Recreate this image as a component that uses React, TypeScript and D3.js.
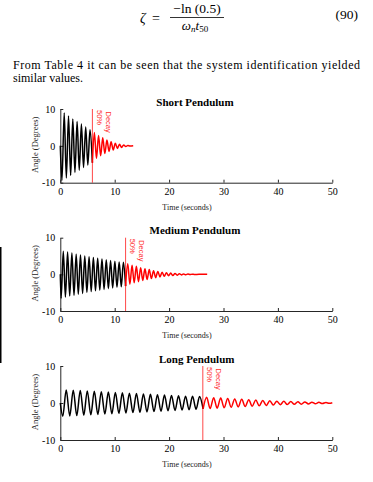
import React, { useRef, useEffect } from "react";
import * as d3 from "d3";

// Turning points of each trace: time (s) and angle (deg).
// Black = before the 50% decay mark, red = after.
const SHORT_BLACK_T = [0, 0.3, 0.72, 1.11, 1.51, 1.9, 2.3, 2.69, 3.09, 3.48, 3.88, 4.27, 4.67, 5.06, 5.46, 5.9];
const SHORT_BLACK_V = [0, -9.4, 8.9, -8.7, 8.1, -8.0, 7.3, -7.2, 6.6, -6.6, 5.9, -5.9, 5.1, -5.2, 4.4, -4.6];
const SHORT_RED_T = [5.9, 6.26, 6.65, 7.03, 7.42, 7.8, 8.19, 8.57, 8.96, 9.34, 9.73, 10.11, 10.5, 10.88, 11.27, 11.65, 12.04, 12.42, 12.81, 13.4];
const SHORT_RED_V = [-4.6, 3.6, -3.4, 2.8, -2.7, 2.2, -2.1, 1.6, -1.5, 1.1, -1.1, 0.7, -0.7, 0.45, -0.45, 0.25, -0.2, 0.1, -0.05, 0];

const MEDIUM_BLACK_T = [0, 0.15, 0.55, 0.94, 1.34, 1.73, 2.13, 2.52, 2.92, 3.31, 3.71, 4.1, 4.5, 4.89, 5.29, 5.68, 6.08, 6.47, 6.87, 7.26, 7.66, 8.05, 8.45, 8.84, 9.24, 9.63, 10.03, 10.42, 10.82, 11.21, 11.6, 12.0];
const MEDIUM_BLACK_V = [0, -6.5, 6.3, -6.2, 6.1, -5.9, 5.8, -5.7, 5.5, -5.4, 5.3, -5.2, 5.0, -4.9, 4.8, -4.7, 4.6, -4.5, 4.4, -4.3, 4.2, -4.1, 4.0, -3.9, 3.8, -3.7, 3.6, -3.5, 3.4, -3.4, 3.3, -3.2];
const MEDIUM_RED_T = [12.0, 12.4, 12.79, 13.19, 13.58, 13.98, 14.37, 14.77, 15.16, 15.56, 15.95, 16.35, 16.74, 17.14, 17.53, 17.93, 18.32, 18.72, 19.11, 19.51, 19.9, 20.3, 20.69, 21.09, 21.48, 21.88, 22.27, 22.67, 23.06, 23.46, 23.85, 24.25, 24.64, 25.5, 27.0];
const MEDIUM_RED_V = [-3.2, 2.9, -2.7, 2.5, -2.3, 2.2, -2.0, 1.8, -1.65, 1.5, -1.4, 1.3, -1.15, 1.0, -0.9, 0.8, -0.7, 0.6, -0.55, 0.45, -0.4, 0.35, -0.3, 0.25, -0.22, 0.18, -0.15, 0.12, -0.1, 0.08, -0.06, 0.04, -0.03, 0, 0];

const LONG_BLACK_T = [0, 0.45, 1.09, 1.74, 2.38, 3.03, 3.67, 4.32, 4.96, 5.61, 6.25, 6.9, 7.54, 8.19, 8.83, 9.48, 10.12, 10.77, 11.41, 12.06, 12.7, 13.35, 13.99, 14.64, 15.28, 15.93, 16.57, 17.22, 17.86, 18.51, 19.15, 19.8, 20.44, 21.09, 21.73, 22.38, 23.02, 23.67, 24.31, 24.96, 25.6, 26.25];
const LONG_BLACK_V = [0, -3.6, 3.5, -3.5, 3.45, -3.4, 3.35, -3.3, 3.25, -3.2, 3.15, -3.1, 3.05, -3.0, 2.95, -2.9, 2.85, -2.8, 2.75, -2.7, 2.65, -2.6, 2.55, -2.5, 2.45, -2.4, 2.35, -2.3, 2.25, -2.2, 2.15, -2.1, 2.05, -2.0, 1.95, -1.9, 1.85, -1.8, 1.8, -1.7, 1.75, -1.6];
const LONG_RED_T = [26.25, 26.9, 27.54, 28.19, 28.83, 29.48, 30.12, 30.77, 31.41, 32.06, 32.7, 33.35, 33.99, 34.64, 35.28, 35.93, 36.57, 37.22, 37.86, 38.51, 39.15, 39.8, 40.44, 41.09, 41.73, 42.38, 43.02, 43.67, 44.31, 44.96, 45.6, 46.25, 46.89, 47.54, 48.18, 48.83, 49.47, 50.0];
const LONG_RED_V = [-1.6, 1.55, -1.5, 1.45, -1.4, 1.35, -1.3, 1.2, -1.15, 1.1, -1.05, 1.0, -0.95, 0.9, -0.85, 0.8, -0.75, 0.7, -0.65, 0.6, -0.55, 0.5, -0.47, 0.45, -0.42, 0.4, -0.37, 0.35, -0.32, 0.3, -0.25, 0.22, -0.2, 0.17, -0.15, 0.13, -0.1, 0.05];

// 50% decay times (s)
const SPLIT_TIMES = [5.9, 12.0, 26.2];
const TITLES = ["Short Pendulum", "Medium Pendulum", "Long Pendulum"];

const X_TICKS = [0, 10, 20, 30, 40, 50];
const Y_TICKS = [-10, 0, 10];

const SERIF = '"Liberation Serif", "Times New Roman", serif';
const SANS = '"Liberation Sans", Arial, sans-serif';
const RED = "#ff0000";
const AXIS = "#262626";

const X_LEFT = 60.3;
const X_RIGHT = 332.3;

interface PanelProps {
  title: string;
  titleX: number;
  yTop: number;
  yBot: number;
  blackT: number[];
  blackV: number[];
  redT: number[];
  redV: number[];
  split: number;
}

const zip = (t: number[], v: number[]): [number, number][] => t.map((d, i) => [d, v[i]]);

const Panel: React.FC<PanelProps> = ({ title, titleX, yTop, yBot, blackT, blackV, redT, redV, split }) => {
  const gRef = useRef<SVGGElement>(null);

  useEffect(() => {
    if (!gRef.current) return;
    const g = d3.select(gRef.current);
    g.selectAll("*").remove();

    const x = d3.scaleLinear().domain([0, 50]).range([X_LEFT, X_RIGHT]);
    const y = d3.scaleLinear().domain([-10, 10]).range([yBot, yTop]);

    g.append("text")
      .attr("x", titleX).attr("y", yTop - 3.5)
      .attr("text-anchor", "middle")
      .attr("font-family", SERIF).attr("font-weight", "bold").attr("font-size", 11)
      .attr("fill", "#000")
      .text(title);

    // Axes — ticks point inward, no box; plain hyphen for negatives
    g.append("g")
      .attr("transform", `translate(0,${yBot})`)
      .call(d3.axisBottom(x).tickValues(X_TICKS).tickFormat(d => String(d))
        .tickSizeInner(-3).tickSizeOuter(0).tickPadding(5))
      .call(ax => ax.attr("font-family", SERIF).attr("font-size", 10))
      .call(ax => ax.select(".domain").attr("stroke", AXIS))
      .call(ax => ax.selectAll(".tick line").attr("stroke", AXIS))
      .call(ax => ax.selectAll("text").attr("fill", "#000"));

    g.append("g")
      .attr("transform", `translate(${X_LEFT},0)`)
      .call(d3.axisLeft(y).tickValues(Y_TICKS).tickFormat(d => String(d))
        .tickSizeInner(-3).tickSizeOuter(0).tickPadding(5))
      .call(ax => ax.attr("font-family", SERIF).attr("font-size", 10))
      .call(ax => ax.select(".domain").attr("stroke", AXIS))
      .call(ax => ax.selectAll(".tick line").attr("stroke", AXIS))
      .call(ax => ax.selectAll("text").attr("fill", "#000"));

    g.append("text")
      .attr("x", 187).attr("y", yBot + 27)
      .attr("text-anchor", "middle")
      .attr("font-family", SERIF).attr("font-size", 8)
      .attr("fill", "#222")
      .text("Time (seconds)");

    g.append("text")
      .attr("transform", `translate(38,${(yTop + yBot) / 2 - 1}) rotate(-90)`)
      .attr("text-anchor", "middle")
      .attr("font-family", SERIF).attr("font-size", 8.5)
      .attr("fill", "#222")
      .text("Angle (Degrees)");

    const lineFn = d3.line<[number, number]>()
      .x(d => x(d[0]))
      .y(d => y(d[1]))
      .curve(d3.curveMonotoneX);

    g.append("path")
      .datum(zip(blackT, blackV))
      .attr("d", lineFn)
      .attr("fill", "none").attr("stroke", "#000")
      .attr("stroke-width", 1.5).attr("stroke-linejoin", "round");

    g.append("path")
      .datum(zip(redT, redV))
      .attr("d", lineFn)
      .attr("fill", "none").attr("stroke", RED)
      .attr("stroke-width", 1.5).attr("stroke-linejoin", "round");

    // 50% decay marker
    const sx = x(split);
    g.append("line")
      .attr("x1", sx).attr("x2", sx).attr("y1", yTop).attr("y2", yBot)
      .attr("stroke", RED).attr("stroke-width", 0.9).attr("opacity", 0.8);

    g.append("text")
      .attr("transform", `translate(${sx + 4.3},${yTop + 1}) rotate(90)`)
      .attr("font-family", SANS).attr("font-size", 7.5)
      .attr("fill", RED).attr("opacity", 0.85)
      .text("50%");
    g.append("text")
      .attr("transform", `translate(${sx + 13.3},${yTop + 2.5}) rotate(90)`)
      .attr("font-family", SANS).attr("font-size", 7.5)
      .attr("fill", RED).attr("opacity", 0.85)
      .text("Decay");
  }, [title, titleX, yTop, yBot, blackT, blackV, redT, redV, split]);

  return <g ref={gRef} />;
};

export default function App() {
  return (
    <svg
      width={373}
      height={482}
      style={{ position: "absolute", left: 0, top: 0, background: "#fff" }}
    >
      <rect x={0} y={0} width={373} height={482} fill="#fff" />

      {/* equation */}
      <g fontFamily={SERIF} fill="#000">
        <text x={140} y={22.5} fontSize={14} fontStyle="italic">ζ</text>
        <text x={152} y={22.5} fontSize={14}>=</text>
        <text x={197} y={13} fontSize={13.5} textAnchor="middle">−ln (0.5)</text>
        <line x1={170} x2={224} y1={17.5} y2={17.5} stroke="#000" strokeWidth={0.8} />
        <text x={195} y={29.5} fontSize={13} textAnchor="middle">
          <tspan fontStyle="italic">ω</tspan>
          <tspan fontSize={9} fontStyle="italic" dy={2.5}>n</tspan>
          <tspan fontStyle="italic" dy={-2.5}>t</tspan>
          <tspan fontSize={9} dy={2.5}>50</tspan>
        </text>
        <text x={358} y={18.5} fontSize={13.5} textAnchor="end">(90)</text>
      </g>

      {/* paragraph (first line justified) */}
      <g fontFamily={SERIF} fontSize={12} fill="#000">
        <text x={13} y={68.5} textLength={347} lengthAdjust="spacing">
          From Table 4 it can be seen that the system identification yielded
        </text>
        <text x={13} y={82}>similar values.</text>
      </g>

      {/* page edge artefact */}
      <rect x={0} y={247} width={1.5} height={116} fill="#000" />

      <Panel title={TITLES[0]} titleX={195} yTop={109} yBot={182.7}
        blackT={SHORT_BLACK_T} blackV={SHORT_BLACK_V} redT={SHORT_RED_T} redV={SHORT_RED_V} split={SPLIT_TIMES[0]} />
      <Panel title={TITLES[1]} titleX={195} yTop={237.7} yBot={311}
        blackT={MEDIUM_BLACK_T} blackV={MEDIUM_BLACK_V} redT={MEDIUM_RED_T} redV={MEDIUM_RED_V} split={SPLIT_TIMES[1]} />
      <Panel title={TITLES[2]} titleX={196.7} yTop={366} yBot={440}
        blackT={LONG_BLACK_T} blackV={LONG_BLACK_V} redT={LONG_RED_T} redV={LONG_RED_V} split={SPLIT_TIMES[2]} />
    </svg>
  );
}
